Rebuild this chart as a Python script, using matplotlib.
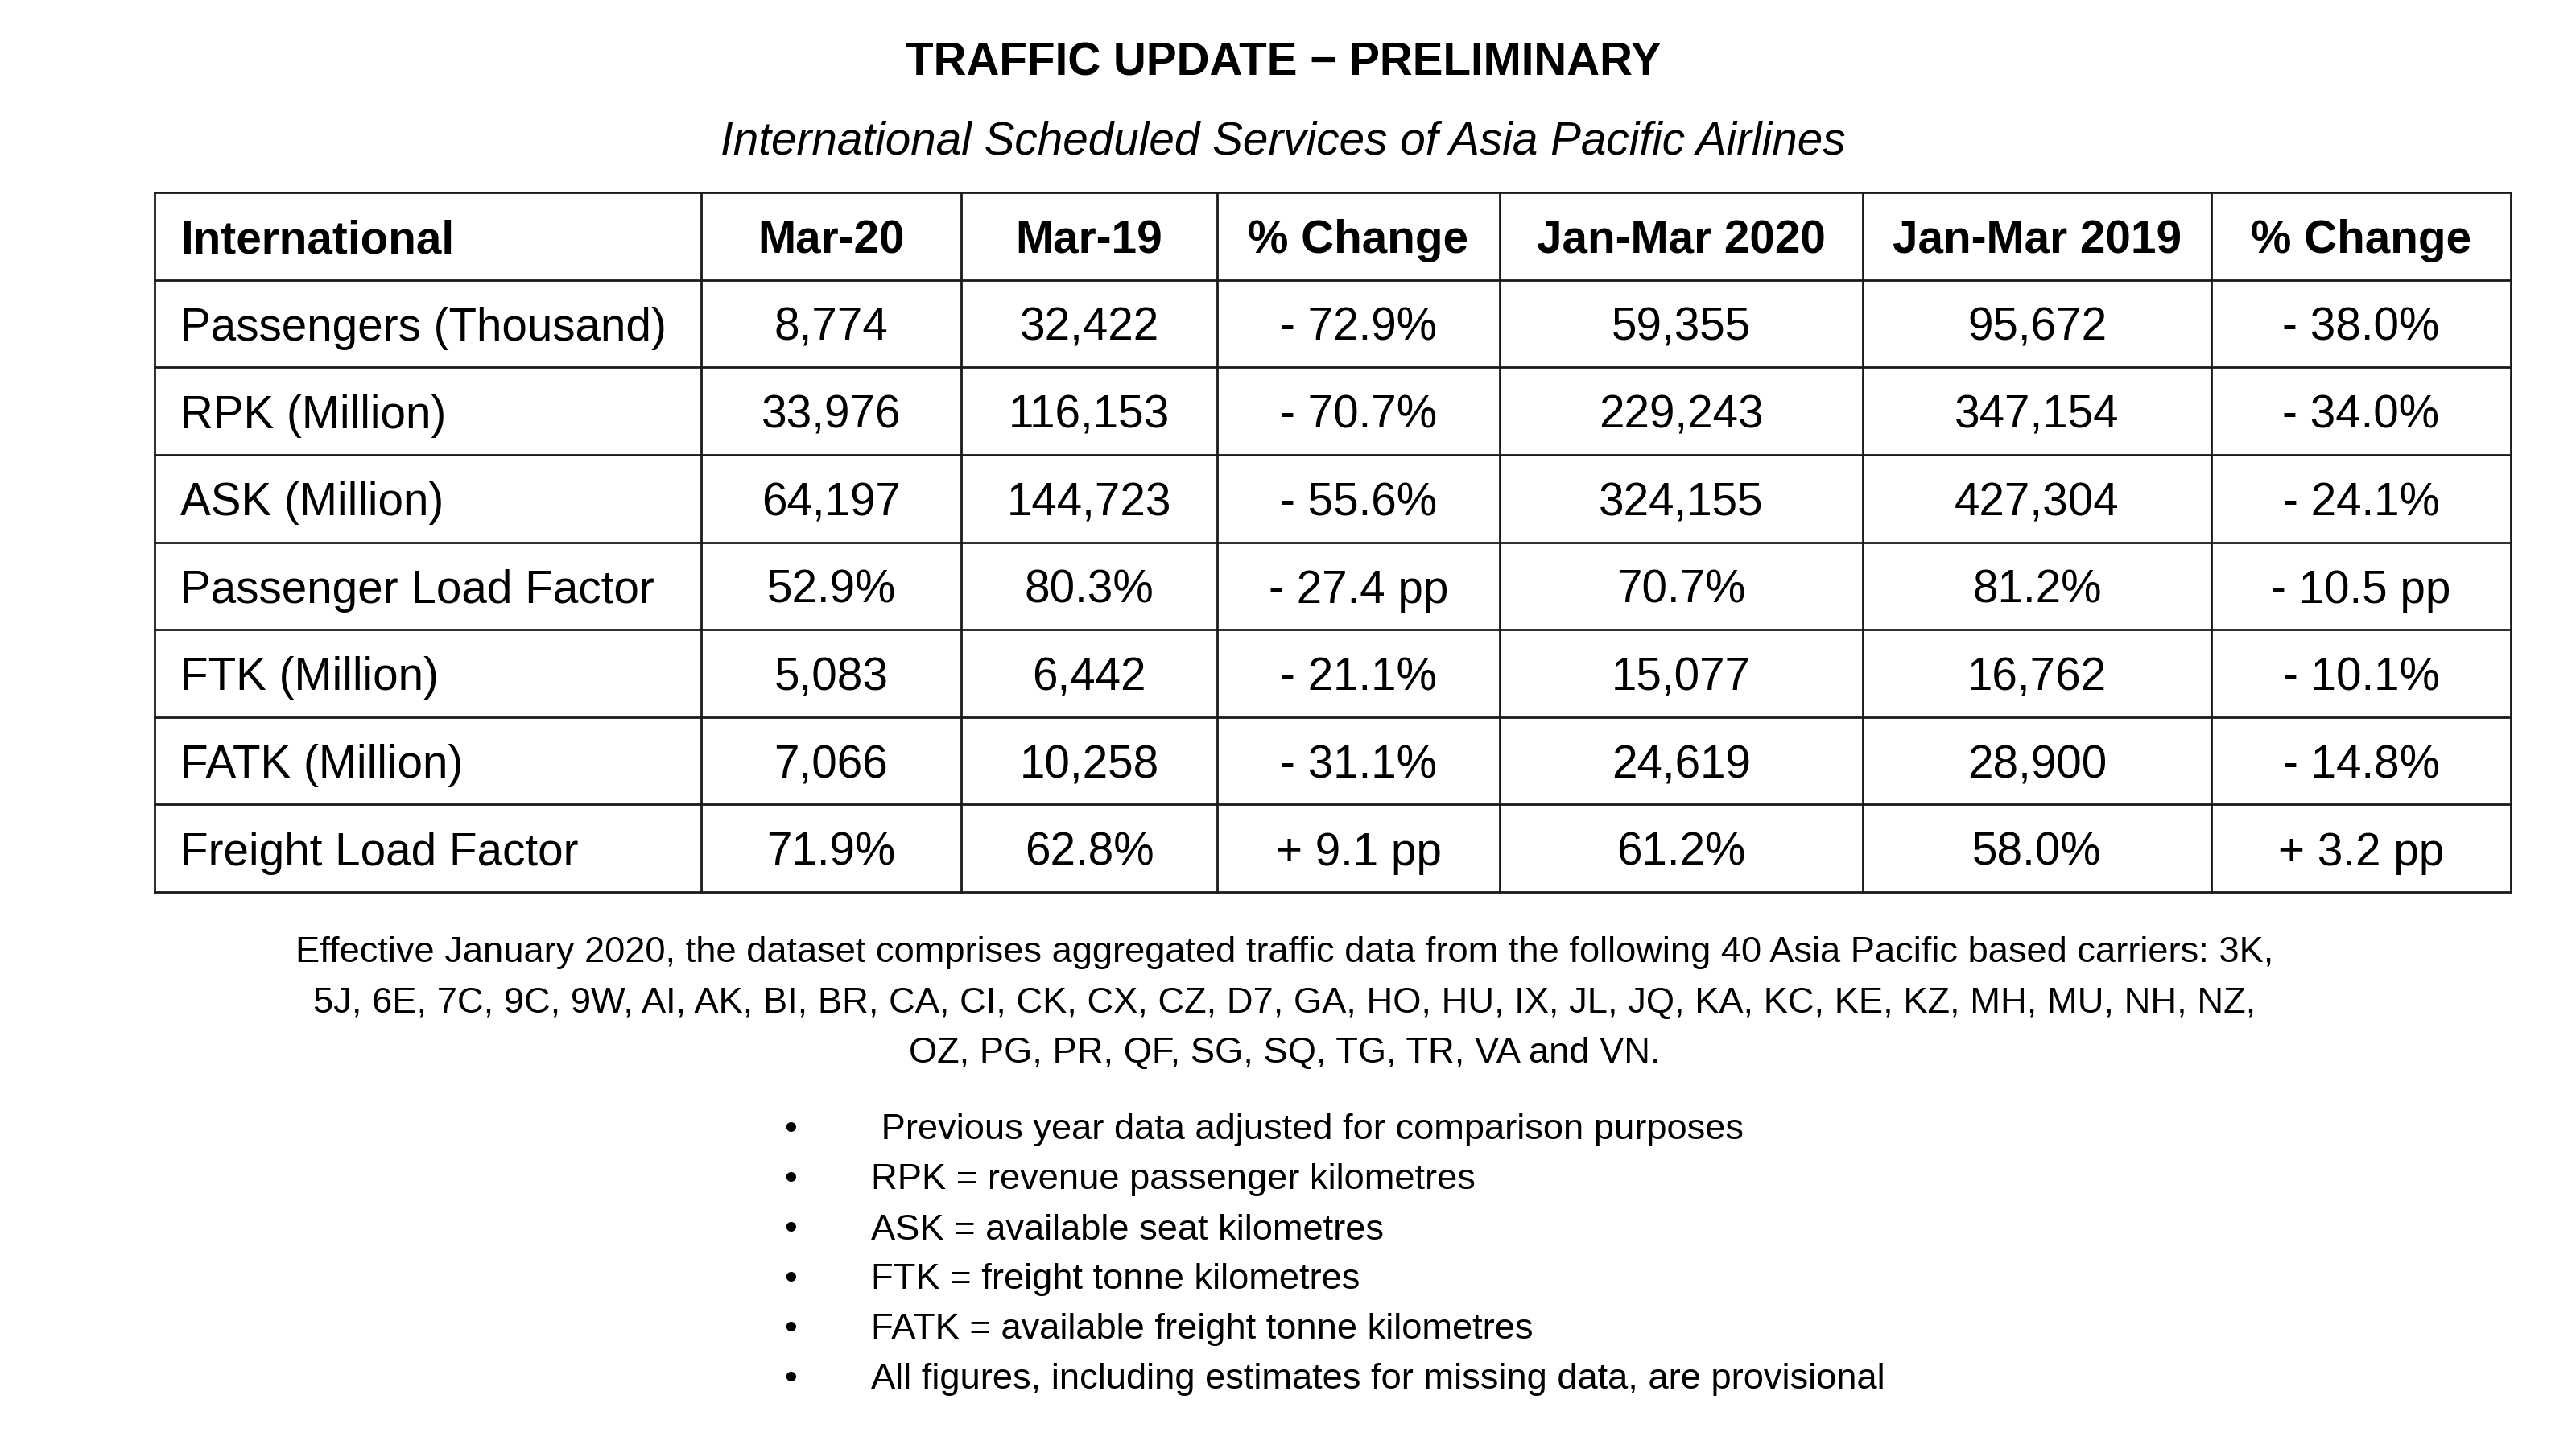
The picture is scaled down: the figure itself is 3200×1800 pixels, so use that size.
import matplotlib.pyplot as plt

plt.rcParams["font.family"] = ["Liberation Sans", "DejaVu Sans"]

title = "TRAFFIC UPDATE \u2212 PRELIMINARY"
subtitle = "International Scheduled Services of Asia Pacific Airlines"

headers = ["International", "Mar-20", "Mar-19", "% Change",
           "Jan-Mar 2020", "Jan-Mar 2019", "% Change"]
metrics = ["Passengers (Thousand)", "RPK (Million)", "ASK (Million)",
           "Passenger Load Factor", "FTK (Million)", "FATK (Million)",
           "Freight Load Factor"]
mar_20 = ["8,774", "33,976", "64,197", "52.9%", "5,083", "7,066", "71.9%"]
mar_19 = ["32,422", "116,153", "144,723", "80.3%", "6,442", "10,258", "62.8%"]
month_change = ["- 72.9%", "- 70.7%", "- 55.6%", "- 27.4 pp",
                "- 21.1%", "- 31.1%", "+ 9.1 pp"]
ytd_2020 = ["59,355", "229,243", "324,155", "70.7%", "15,077", "24,619", "61.2%"]
ytd_2019 = ["95,672", "347,154", "427,304", "81.2%", "16,762", "28,900", "58.0%"]
ytd_change = ["- 38.0%", "- 34.0%", "- 24.1%", "- 10.5 pp",
              "- 10.1%", "- 14.8%", "+ 3.2 pp"]

carriers_note = [
    "Effective January 2020, the dataset comprises aggregated traffic data from the following 40 Asia Pacific based carriers: 3K,",
    "5J, 6E, 7C, 9C, 9W, AI, AK, BI, BR, CA, CI, CK, CX, CZ, D7, GA, HO, HU, IX, JL, JQ, KA, KC, KE, KZ, MH, MU, NH, NZ,",
    "OZ, PG, PR, QF, SG, SQ, TG, TR, VA and VN.",
]
bullets = [
    " Previous year data adjusted for comparison purposes",
    "RPK = revenue passenger kilometres",
    "ASK = available seat kilometres",
    "FTK = freight tonne kilometres",
    "FATK = available freight tonne kilometres",
    "All figures, including estimates for missing data, are provisional",
]

# layout in pixel coordinates of the 3200x1800 canvas
col_edges = [192, 871, 1194, 1512, 1863, 2314, 2747, 3119]
top, bottom = 239, 1108
n_rows = len(metrics) + 1
row_h = (bottom - top) / n_rows
row_edges = [top + i * row_h for i in range(n_rows + 1)]
big = 20.4
small = 16.3
dy = 6  # nudge text down a touch

fig = plt.figure(figsize=(16, 9), dpi=200)
ax = fig.add_axes([0, 0, 1, 1])
ax.set_xlim(0, 3200)
ax.set_ylim(1800, 0)
ax.axis("off")

ax.text(1594, 73 + dy, title, ha="center", va="center", fontsize=big, fontweight="bold")
ax.text(1594, 171 + dy, subtitle, ha="center", va="center", fontsize=big, style="italic")

# grid lines
for x in col_edges:
    ax.plot([x, x], [top, bottom], color="#1a1a1a", lw=1.0, solid_capstyle="projecting")
for y in row_edges:
    ax.plot([col_edges[0], col_edges[-1]], [y, y], color="#1a1a1a", lw=1.0,
            solid_capstyle="projecting")

columns = [mar_20, mar_19, month_change, ytd_2020, ytd_2019, ytd_change]

# header row
yc = (row_edges[0] + row_edges[1]) / 2 + dy
ax.text(col_edges[0] + 32, yc, headers[0], ha="left", va="center",
        fontsize=big, fontweight="bold")
for j, h in enumerate(headers[1:]):
    xc = (col_edges[j + 1] + col_edges[j + 2]) / 2
    ax.text(xc, yc, h, ha="center", va="center", fontsize=big, fontweight="bold")

# body rows
for i, m in enumerate(metrics):
    yc = (row_edges[i + 1] + row_edges[i + 2]) / 2 + dy
    ax.text(col_edges[0] + 32, yc, m, ha="left", va="center", fontsize=big)
    for j, col in enumerate(columns):
        xc = (col_edges[j + 1] + col_edges[j + 2]) / 2
        ax.text(xc, yc, col[i], ha="center", va="center", fontsize=big)

# notes
for k, line in enumerate(carriers_note):
    ax.text(1596, 1184 + k * 62, line, ha="center", va="center", fontsize=small)

for k, line in enumerate(bullets):
    y = 1404 + k * 62
    ax.text(982, y, "\u2022", ha="center", va="center", fontsize=small)
    ax.text(1082, y, line, ha="left", va="center", fontsize=small)

fig.savefig("out.png", dpi=200)
